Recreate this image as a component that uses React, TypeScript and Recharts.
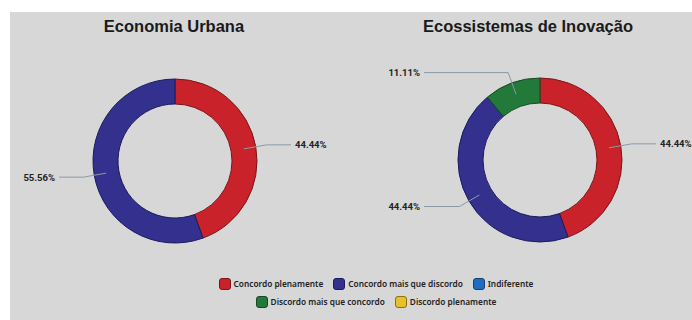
import React from 'react';
import { PieChart, Pie, Cell, Legend } from 'recharts';

const categories = [
  'Concordo plenamente',
  'Concordo mais que discordo',
  'Indiferente',
  'Discordo mais que concordo',
  'Discordo plenamente',
];
const colors = ['#c9222a', '#33308e', '#1f6dbf', '#22793a', '#e6c12a'];
const strokes = ['#7a1418', '#1c1a5a', '#123f78', '#144a22', '#8a7010'];
const urbanaValues = [4, 5, 0, 0, 0];
const inovacaoValues = [4, 4, 0, 1, 0];
const titles = ['Economia Urbana', 'Ecossistemas de Inovação'];

const urbanaData = categories.map((name, i) => ({ name, value: urbanaValues[i] }));
const inovacaoData = categories.map((name, i) => ({ name, value: inovacaoValues[i] }));

const RAD = Math.PI / 180;

const renderLabel = (props: any) => {
  const { cx, cy, midAngle, percent, value } = props;
  if (!value) return null;
  const cos = Math.cos(-midAngle * RAD);
  const sin = Math.sin(-midAngle * RAD);
  const r0 = 70;
  const r1 = 93;
  const x0 = cx + r0 * cos;
  const y0 = cy + r0 * sin;
  const x1 = cx + r1 * cos;
  const y1 = cy + r1 * sin;
  const right = cos >= 0;
  const xEnd = right ? cx + 116 : cx - 116;
  const xText = right ? cx + 120 : cx - 120;
  return (
    <g>
      <polyline
        points={`${x0},${y0} ${x1},${y1} ${xEnd},${y1}`}
        fill="none"
        stroke="#8c9aa6"
        strokeWidth={1}
      />
      <text
        x={xText}
        y={y1}
        textAnchor={right ? 'start' : 'end'}
        dominantBaseline="central"
        fontFamily="Roboto, 'Noto Sans', sans-serif"
        fontWeight="bold"
        fontSize={9.5}
        fill="#222"
      >
        {(percent * 100).toFixed(2)}%
      </text>
    </g>
  );
};

const LegendContent = () => (
  <div
    style={{
      display: 'flex',
      flexWrap: 'wrap',
      justifyContent: 'center',
      rowGap: 5,
      fontFamily: "'Noto Sans', sans-serif",
      fontWeight: 600,
      fontSize: 8.3,
      color: '#222',
    }}
  >
    {categories.map((c, i) => (
      <span
        key={c}
        style={{ display: 'inline-flex', alignItems: 'center', margin: '0 5px', height: 13 }}
      >
        <span
          style={{
            width: 10,
            height: 10,
            borderRadius: 3,
            background: colors[i],
            border: `1px solid ${strokes[i]}`,
            display: 'inline-block',
          }}
        />
        <span style={{ marginLeft: 3, whiteSpace: 'nowrap' }}>{c}</span>
      </span>
    ))}
  </div>
);

const titleStyle = (center: number): React.CSSProperties => ({
  position: 'absolute',
  left: center - 150,
  top: 5,
  width: 300,
  textAlign: 'center',
  fontFamily: "'Liberation Sans', Arial, sans-serif",
  fontWeight: 'bold',
  fontSize: 16.5,
  color: '#1a1a1a',
  zIndex: 2,
});

export default function App() {
  return (
    <div
      style={{
        position: 'fixed',
        left: 10,
        top: 12,
        width: 682,
        height: 308,
        background: '#d7d7d7',
        overflow: 'hidden',
      }}
    >
      <div style={titleStyle(164)}>{titles[0]}</div>
      <div style={titleStyle(518)}>{titles[1]}</div>
      <PieChart width={682} height={308} margin={{ top: 0, right: 0, bottom: 0, left: 0 }}>
        <Pie
          data={urbanaData}
          dataKey="value"
          nameKey="name"
          cx={165}
          cy={149}
          innerRadius={57}
          outerRadius={82}
          startAngle={90}
          endAngle={-270}
          label={renderLabel}
          labelLine={false}
          isAnimationActive={false}
        >
          {urbanaData.map((d, i) => (
            <Cell key={d.name} fill={colors[i]} stroke={strokes[i]} strokeWidth={1} />
          ))}
        </Pie>
        <Pie
          data={inovacaoData}
          dataKey="value"
          nameKey="name"
          cx={530}
          cy={148}
          innerRadius={57}
          outerRadius={82}
          startAngle={90}
          endAngle={-270}
          label={renderLabel}
          labelLine={false}
          isAnimationActive={false}
        >
          {inovacaoData.map((d, i) => (
            <Cell key={d.name} fill={colors[i]} stroke={strokes[i]} strokeWidth={1} />
          ))}
        </Pie>
        <Legend
          verticalAlign="bottom"
          content={<LegendContent />}
          wrapperStyle={{ position: 'absolute', left: 191, top: 265, width: 350, bottom: 'auto' }}
        />
      </PieChart>
    </div>
  );
}
